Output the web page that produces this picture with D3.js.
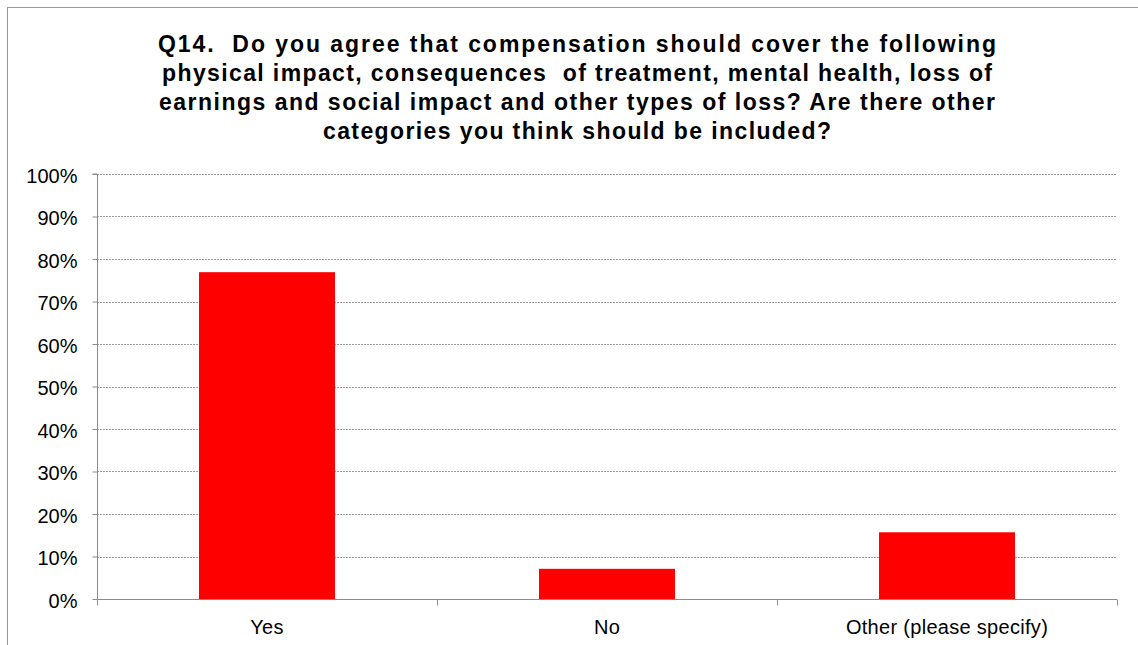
<!DOCTYPE html>
<html><head><meta charset="utf-8">
<script src="https://cdn.jsdelivr.net/npm/d3@7"></script>
<style>body{margin:0;background:#fff}svg{display:block;font-family:"Liberation Sans",Arial,sans-serif}</style>
</head><body><svg id="c" width="1138" height="645"></svg>
<script>
const categories = ["Yes", "No", "Other (please specify)"];
const values = [0.769, 0.071, 0.157];
const yTicks = [0,0.1,0.2,0.3,0.4,0.5,0.6,0.7,0.8,0.9,1.0];
const titleLines = [
  "Q14.  Do you agree that compensation should cover the following",
  "physical impact, consequences  of treatment, mental health, loss of",
  "earnings and social impact and other types of loss? Are there other",
  "categories you think should be included?"
];

const svg = d3.select("#c");
const m = {left: 97, right: 1117, top: 174, bottom: 599};

// outer frame
svg.append("rect").attr("x",7.5).attr("y",7.5).attr("width",1200).attr("height",700)
  .attr("fill","none").attr("stroke","#999").attr("stroke-width",1);

// title (wide glyph spacing as in the reference rendering)
const titleWidths = [838, 830, 836, 508];
svg.append("g").selectAll("text").data(titleLines).join("text")
  .attr("x",577).attr("y",(d,i)=>52+i*29).attr("text-anchor","middle")
  .style("white-space","pre")
  .attr("textLength",(d,i)=>titleWidths[i]).attr("lengthAdjust","spacing")
  .attr("font-size","23px").attr("font-weight","bold").attr("fill","#000").text(d=>d);

const x = d3.scaleBand().domain(categories).range([m.left,m.right]).paddingInner(0.6).paddingOuter(0.3);
const y = d3.scaleLinear().domain([0,1]).range([m.bottom,m.top]);

// gridlines
svg.append("g").selectAll("line").data(yTicks.filter(d=>d>0)).join("line")
  .attr("x1",m.left).attr("x2",m.right).attr("y1",d=>Math.round(y(d))+0.5).attr("y2",d=>Math.round(y(d))+0.5)
  .attr("stroke","#9a9a9a").attr("stroke-dasharray","2,1").attr("stroke-width",1);

// bars
svg.append("g").selectAll("rect").data(values).join("rect")
  .attr("x",(d,i)=>x(categories[i])).attr("width",x.bandwidth())
  .attr("y",d=>y(d)).attr("height",d=>m.bottom-y(d)).attr("fill","#ff0000");

// y axis
const yAxis = d3.axisLeft(y).tickValues(yTicks).tickFormat(d3.format(".0%")).tickSize(5).tickPadding(15);
const gy = svg.append("g").attr("transform",`translate(${m.left+0.5},0)`).call(yAxis);
gy.select(".domain").attr("stroke","#8c8c8c").attr("d",`M-5,${m.top}H0V${m.bottom+6}`);
gy.selectAll(".tick line").attr("stroke","#8c8c8c");
gy.selectAll(".tick text").attr("font-size","20px").attr("dy","0.42em").attr("fill","#000")
  .attr("font-family","Liberation Sans, Arial, sans-serif");

// x axis
const xAxis = d3.axisBottom(x).tickSize(0).tickPadding(20);
const gx = svg.append("g").attr("transform",`translate(0,${m.bottom+0.5})`).call(xAxis);
gx.select(".domain").attr("stroke","#8c8c8c").attr("d",`M${m.left},0H${m.right}`);
gx.selectAll(".tick text").attr("font-size","20px").attr("letter-spacing","0.3px").attr("fill","#000")
  .attr("font-family","Liberation Sans, Arial, sans-serif");
const step = (m.right-m.left)/categories.length;
gx.append("g").selectAll("line").data(d3.range(categories.length+1)).join("line")
  .attr("x1",i=>Math.round(m.left+i*step)+0.5).attr("x2",i=>Math.round(m.left+i*step)+0.5)
  .attr("y1",0).attr("y2",6).attr("stroke","#8c8c8c");
</script></body></html>
